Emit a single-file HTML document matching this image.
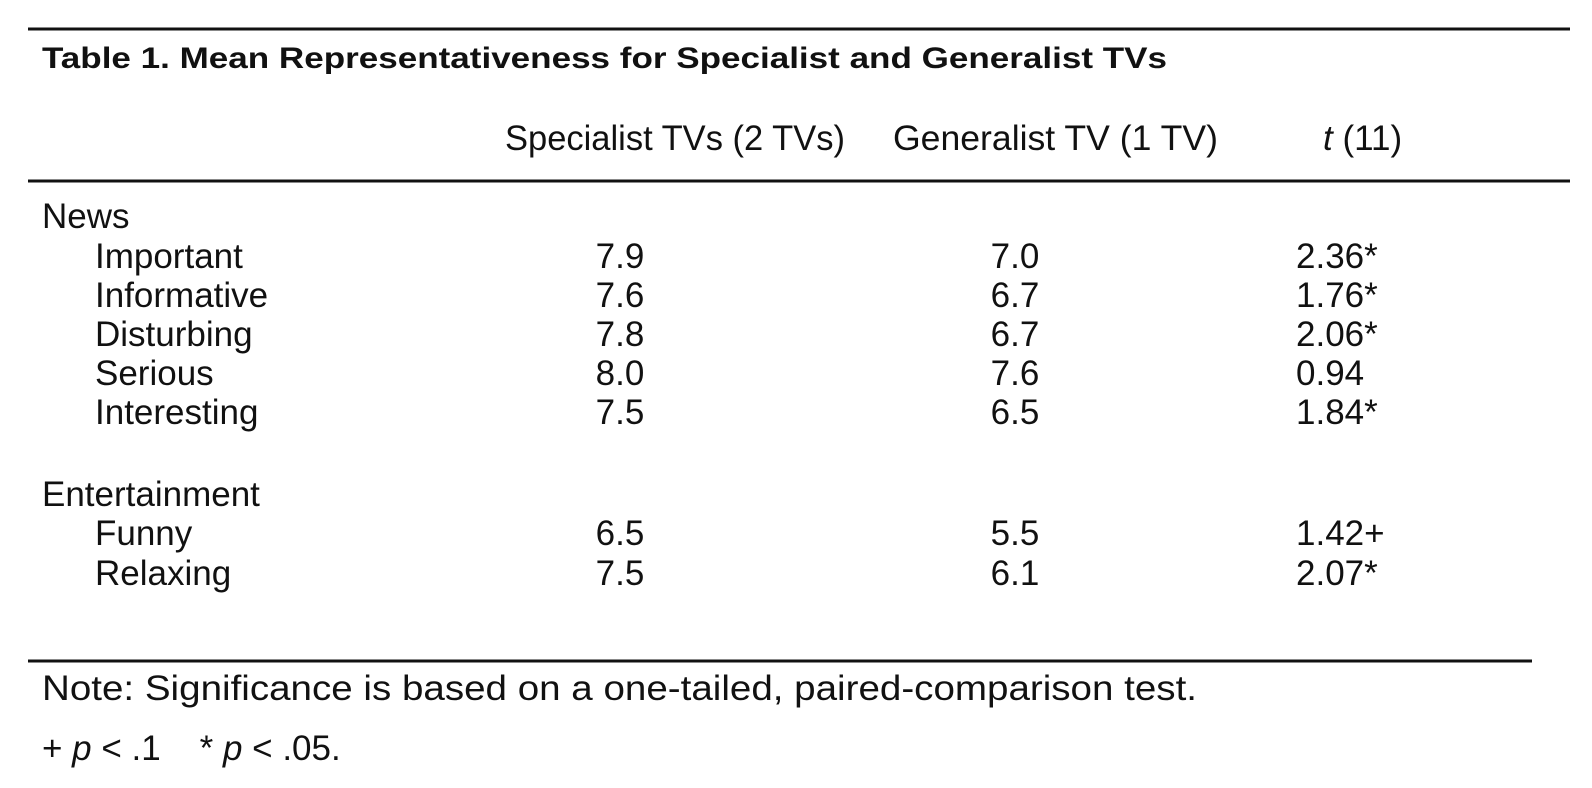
<!DOCTYPE html>
<html><head><meta charset="utf-8"><style>
html,body{margin:0;padding:0;background:#fff;}
svg{display:block;}
text{font-family:"Liberation Sans",sans-serif;fill:#111;}
</style></head><body>
<svg width="1592" height="788" viewBox="0 0 1592 788">
<line x1="28" y1="29" x2="1570" y2="29" stroke="#111" stroke-width="3"/>
<text x="42" y="68" font-size="30" font-weight="bold" textLength="1125" lengthAdjust="spacingAndGlyphs">Table 1. Mean Representativeness for Specialist and Generalist TVs</text>
<text x="505" y="150" font-size="35" textLength="340" lengthAdjust="spacingAndGlyphs">Specialist TVs (2 TVs)</text>
<text x="893" y="150" font-size="35" textLength="325" lengthAdjust="spacingAndGlyphs">Generalist TV (1 TV)</text>
<text x="1323" y="150" font-size="35"><tspan font-style="italic">t</tspan> (11)</text>
<line x1="28" y1="181" x2="1570" y2="181" stroke="#111" stroke-width="3"/>
<g id="rows"></g>
<line x1="28" y1="661" x2="1532" y2="661" stroke="#111" stroke-width="3"/>
<text x="42" y="700" font-size="35" textLength="1155" lengthAdjust="spacingAndGlyphs">Note: Significance is based on a one-tailed, paired-comparison test.</text>
<text x="42" y="760" font-size="35">+ <tspan font-style="italic">p</tspan> &lt; .1 &#160;&#160; * <tspan font-style="italic">p</tspan> &lt; .05.</text>
</svg>
<script>
const labels=["News","Important","Informative","Disturbing","Serious","Interesting","Entertainment","Funny","Relaxing"];
const specialist=["","7.9","7.6","7.8","8.0","7.5","","6.5","7.5"];
const generalist=["","7.0","6.7","6.7","7.6","6.5","","5.5","6.1"];
const tstat=["","2.36*","1.76*","2.06*","0.94","1.84*","","1.42+","2.07*"];
const baselines=[228,268,307,346,385,424,506,545,585];
const g=document.getElementById('rows');
const NS='http://www.w3.org/2000/svg';
function mk(x,y,s,anchor){const t=document.createElementNS(NS,'text');t.setAttribute('x',x);t.setAttribute('y',y);t.setAttribute('font-size','35');if(anchor)t.setAttribute('text-anchor',anchor);t.textContent=s;g.appendChild(t);return t;}
labels.forEach((l,i)=>{
  const head=specialist[i]==="";
  const a=mk(head?42:95,baselines[i],l);
  
  
  if(head)return;
  const b=mk(620,baselines[i],specialist[i],'middle');
  
  
  const c=mk(1015,baselines[i],generalist[i],'middle');
  
  
  const d=mk(1296,baselines[i],tstat[i]);
  
  
});
</script>
</body></html>
